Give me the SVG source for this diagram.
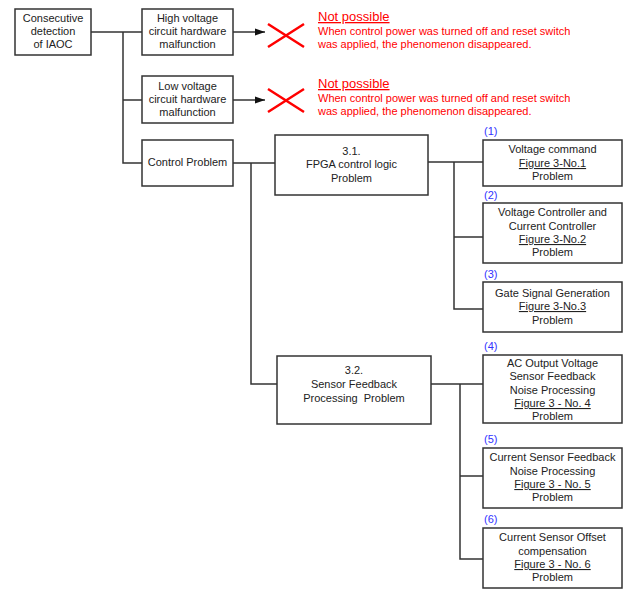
<svg xmlns="http://www.w3.org/2000/svg" width="625" height="589" viewBox="0 0 625 589">
<defs>
<style>
.box{fill:#fff;stroke:#333;stroke-width:1.5}
.ln{fill:none;stroke:#333;stroke-width:1.5}
.t{font-family:"Liberation Sans",Arial,sans-serif;font-size:11px;fill:#222;text-anchor:middle}
.u{text-decoration:underline}
.r{font-family:"Liberation Sans",Arial,sans-serif;font-size:11px;fill:#f00}
.rh{font-size:13px;text-decoration:underline}
.b{font-family:"Liberation Sans",Arial,sans-serif;font-size:11px;fill:#33f}
.x{stroke:#f00;stroke-width:2.5;fill:none}
</style>
<marker id="ah" viewBox="0 0 10 10" refX="10" refY="5" markerWidth="10" markerHeight="10" markerUnits="userSpaceOnUse" orient="auto"><path d="M0,1.5 L10,5 L0,8.5 Z" fill="#111"/></marker>
</defs>
<rect width="625" height="589" fill="#fff"/>
<g id="connectors">
<path class="ln" d="M91,32 H142 M123,32 V163 H142 M123,100 H142"/>
<path class="ln" d="M233,32 H265" marker-end="url(#ah)"/>
<path class="ln" d="M233,100 H265" marker-end="url(#ah)"/>
<path class="ln" d="M233,163 H275 M251,163 V384 H277"/>
<path class="ln" d="M428,162 H483 M454,162 V309 H483 M454,237 H483"/>
<path class="ln" d="M431,384 H483 M460,384 V559 H483 M460,476 H483"/>
</g>
<g id="n0"><rect class="box" x="15" y="9" width="76" height="46"/>
<text class="t" x="53" y="22">Consecutive</text><text class="t" x="53" y="35">detection</text><text class="t" x="53" y="48">of IAOC</text></g>
<g id="n1"><rect class="box" x="142" y="9" width="91" height="46"/>
<text class="t" x="187.5" y="22">High voltage</text><text class="t" x="187.5" y="35">circuit hardware</text><text class="t" x="187.5" y="48">malfunction</text></g>
<g id="n2"><rect class="box" x="142" y="76" width="91" height="47"/>
<text class="t" x="187.5" y="90">Low voltage</text><text class="t" x="187.5" y="103">circuit hardware</text><text class="t" x="187.5" y="116">malfunction</text></g>
<g id="n3"><rect class="box" x="142" y="140" width="91" height="46"/>
<text class="t" x="187.5" y="166">Control Problem</text></g>
<g id="x1"><path class="x" d="M268,24 L304,47 M304,24 L268,47"/>
<text class="r rh" x="318" y="21">Not possible</text>
<text class="r" x="318" y="35">When control power was turned off and reset switch</text>
<text class="r" x="318" y="48">was applied, the phenomenon disappeared.</text></g>
<g id="x2"><path class="x" d="M268,89 L304,112 M304,89 L268,112"/>
<text class="r rh" x="318" y="88">Not possible</text>
<text class="r" x="318" y="102">When control power was turned off and reset switch</text>
<text class="r" x="318" y="115">was applied, the phenomenon disappeared.</text></g>
<g id="n4"><rect class="box" x="275" y="135" width="153" height="60"/>
<text class="t" x="351.5" y="155">3.1.</text><text class="t" x="351.5" y="168">FPGA control logic</text><text class="t" x="351.5" y="182">Problem</text></g>
<g id="n5"><rect class="box" x="277" y="356" width="154" height="68"/>
<text class="t" x="354" y="374">3.2.</text><text class="t" x="354" y="388">Sensor Feedback</text><text class="t" x="354" y="402">Processing&#160; Problem</text></g>
<g id="p1"><text class="b" x="484" y="135">(1)</text><rect class="box" x="483" y="140" width="139" height="46"/>
<text class="t" x="552.5" y="153">Voltage command</text><text class="t u" x="552.5" y="167">Figure 3-No.1</text><text class="t" x="552.5" y="180">Problem</text></g>
<g id="p2"><text class="b" x="484" y="199">(2)</text><rect class="box" x="483" y="203" width="139" height="60"/>
<text class="t" x="552.5" y="216">Voltage Controller and</text><text class="t" x="552.5" y="230">Current Controller</text><text class="t u" x="552.5" y="243">Figure 3-No.2</text><text class="t" x="552.5" y="256">Problem</text></g>
<g id="p3"><text class="b" x="484" y="278">(3)</text><rect class="box" x="483" y="282" width="139" height="50"/>
<text class="t" x="552.5" y="297">Gate Signal Generation</text><text class="t u" x="552.5" y="310">Figure 3-No.3</text><text class="t" x="552.5" y="324">Problem</text></g>
<g id="p4"><text class="b" x="484" y="350">(4)</text><rect class="box" x="483" y="355" width="139" height="68"/>
<text class="t" x="552.5" y="367">AC Output Voltage</text><text class="t" x="552.5" y="380">Sensor Feedback</text><text class="t" x="552.5" y="394">Noise Processing</text><text class="t u" x="552.5" y="407">Figure 3 - No. 4</text><text class="t" x="552.5" y="420">Problem</text></g>
<g id="p5"><text class="b" x="484" y="443">(5)</text><rect class="box" x="483" y="448" width="139" height="60"/>
<text class="t" x="552.5" y="461">Current Sensor Feedback</text><text class="t" x="552.5" y="475">Noise Processing</text><text class="t u" x="552.5" y="488">Figure 3 - No. 5</text><text class="t" x="552.5" y="501">Problem</text></g>
<g id="p6"><text class="b" x="484" y="523">(6)</text><rect class="box" x="483" y="528" width="139" height="60"/>
<text class="t" x="552.5" y="541">Current Sensor Offset</text><text class="t" x="552.5" y="555">compensation</text><text class="t u" x="552.5" y="568">Figure 3 - No. 6</text><text class="t" x="552.5" y="581">Problem</text></g>
</svg>
